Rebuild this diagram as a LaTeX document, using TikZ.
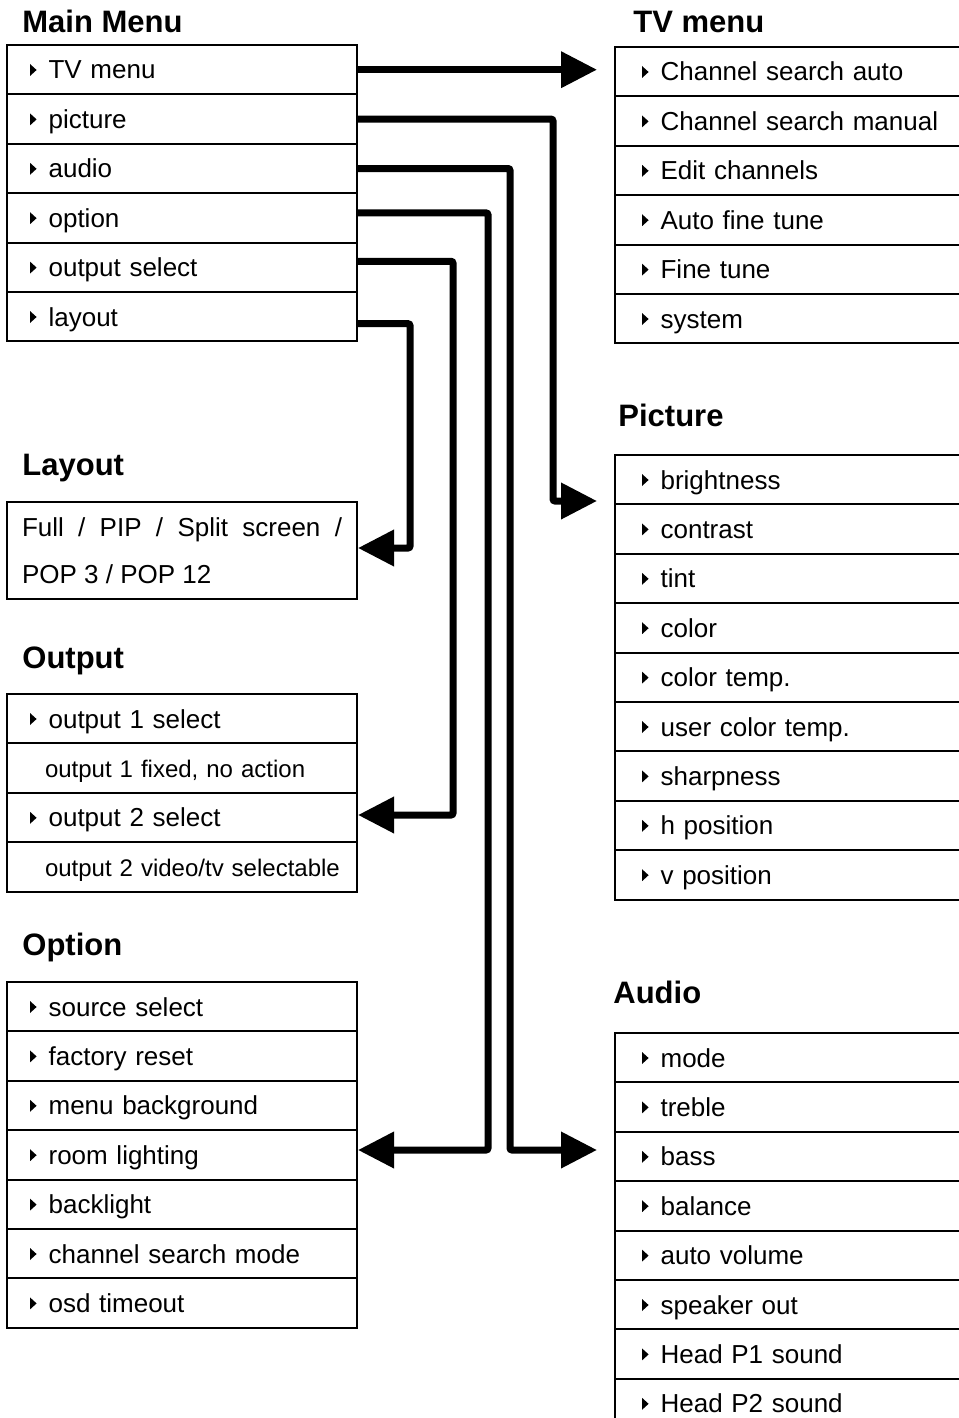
\documentclass[tikz,border=0pt]{standalone}
\usepackage{fontspec}
\setmainfont{Liberation Sans}
\usetikzlibrary{arrows.meta}

% small black marker in front of a menu entry
\newcommand{\mk}[1]{\hspace*{#1}\tikz[baseline=0pt]\fill (0pt,1.5pt) -- (0pt,7.5pt) -- (3.3pt,4.5pt) -- cycle;\hspace{6pt}}

\begin{document}
\begin{tikzpicture}[x=0.5pt, y=-0.5pt,
    head/.style={anchor=base west, inner sep=0pt, font=\fontsize{15.5}{18}\selectfont\bfseries},
    row/.style={draw, line width=1pt, anchor=north west, outer sep=0pt, inner xsep=0pt, inner ysep=0pt,
      minimum height=24.7pt, text width=175pt, text height=12pt, text depth=2.7pt, align=left,
      font=\fontsize{13}{15}\selectfont},
    note/.style={row, font=\fontsize{12}{14}\selectfont},
    conn/.style={line width=3.5pt, rounded corners=1pt, -{Triangle[length=18pt, width=17.5pt]}}]
    \useasboundingbox (0,0) rectangle (958,1418);
    \def\rh{49.4}

    % --- 1. Main menu ---
    \node[head] (h-main) at (22,33) {Main Menu};
    \foreach \name [count=\i] in {TV menu, picture, audio, option, output select, layout}
        \node[row] (mm-\i) at (7,{45+\rh*(\i-1)}) {\mk{11.5pt}\name};

    % --- 2. TV menu ---
    \node[head] (h-tv) at (633,33) {TV menu};
    \foreach \name [count=\i] in {Channel search auto, Channel search manual, Edit channels,
        Auto fine tune, Fine tune, system}
        \node[row] (tv-\i) at (615,{47+\rh*(\i-1)}) {\mk{13.5pt}\name};

    % --- 3. Picture ---
    \node[head] (h-pic) at (618,426) {Picture};
    \foreach \name [count=\i] in {brightness, contrast, tint, color, color temp.,
        user color temp., sharpness, h position, v position}
        \node[row] (pic-\i) at (615,{455+\rh*(\i-1)}) {\mk{13.5pt}\name};

    % --- 4. Audio ---
    \node[head] (h-au) at (613,1003) {Audio};
    \foreach \name [count=\i] in {mode, treble, bass, balance, auto volume, speaker out,
        Head P1 sound, Head P2 sound}
        \node[row] (au-\i) at (615,{1033+\rh*(\i-1)}) {\mk{13.5pt}\name};

    % --- 5. Layout ---
    \node[head] (h-lay) at (22,475) {Layout};
    \node[draw, line width=1pt, anchor=north west, outer sep=0pt, minimum height=48.5pt,
        inner xsep=7.5pt, inner ysep=0pt, text width=160pt, align=justify,
        font=\fontsize{13}{23.5}\selectfont] (lay) at (7,502)
        {Full / PIP / Split screen / POP 3 / POP 12};

    % --- 6. Output ---
    \node[head] (h-out) at (22,668) {Output};
    \node[row] (out-1) at (7,694) {\mk{11.5pt}output 1 select};
    \node[note] (out-2) at (7,{694+\rh}) {\hspace*{19pt}output 1 fixed, no action};
    \node[row] (out-3) at (7,{694+2*\rh}) {\mk{11.5pt}output 2 select};
    \node[note] (out-4) at (7,{694+3*\rh}) {\hspace*{19pt}output 2 video/tv selectable};

    % --- 7. Option ---
    \node[head] (h-opt) at (22,955) {Option};
    \foreach \name [count=\i] in {source select, factory reset, menu background, room lighting,
        backlight, channel search mode, osd timeout}
        \node[row] (opt-\i) at (7,{982+\rh*(\i-1)}) {\mk{11.5pt}\name};

    % --- 8. Connectors ---
    \coordinate (pic-in) at (615,501);
    \coordinate (au-in) at (615,1150);
    \coordinate (opt-in) at (358,1150);
    \coordinate (out-in) at (358,815);
    \coordinate (lay-in) at (358,548);

    \draw[conn, shorten >=9pt] (mm-1.east) -- (mm-1.east -| tv-1.west);
    \draw[conn, shorten >=9pt] (mm-2.east) -| (553,501) -- (pic-in);
    \draw[conn, shorten >=9pt] (mm-3.east) -| (510,1150) -- (au-in);
    \draw[conn] ([yshift=2.5pt]mm-4.east) -| (488,1150) -- (opt-in);
    \draw[conn] ([yshift=3pt]mm-5.east) -| (453,815) -- (out-in);
    \draw[conn] ([yshift=-3.5pt]mm-6.east) -| (410,548) -- (lay-in);
\end{tikzpicture}
\end{document}
